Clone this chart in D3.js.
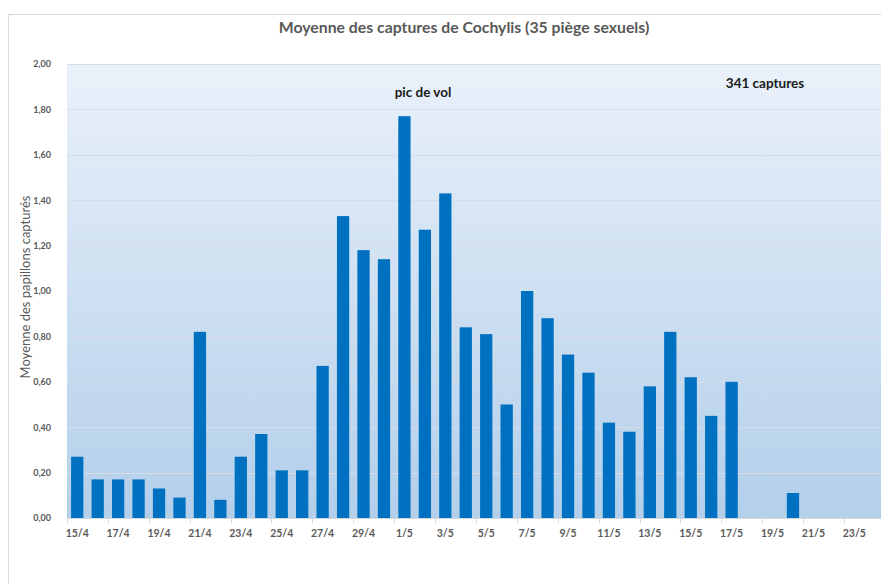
<!DOCTYPE html>
<html>
<head>
<meta charset="utf-8">
<script src="https://cdn.jsdelivr.net/npm/d3@7"></script>
<style>
  html, body { margin: 0; padding: 0; background: #fff; }
  svg { display: block; }
  text { font-family: Lato, "Open Sans", sans-serif; }
</style>
</head>
<body>
<div id="chart"></div>
<script>
// one bar per day, 15/4 -> 24/5
const days = [
  "15/4","16/4","17/4","18/4","19/4","20/4","21/4","22/4","23/4","24/4",
  "25/4","26/4","27/4","28/4","29/4","30/4","1/5","2/5","3/5","4/5",
  "5/5","6/5","7/5","8/5","9/5","10/5","11/5","12/5","13/5","14/5",
  "15/5","16/5","17/5","18/5","19/5","20/5","21/5","22/5","23/5","24/5"
];
const moyennes = [
  0.27, 0.17, 0.17, 0.17, 0.13, 0.09, 0.82, 0.08, 0.27, 0.37,
  0.21, 0.21, 0.67, 1.33, 1.18, 1.14, 1.77, 1.27, 1.43, 0.84,
  0.81, 0.50, 1.00, 0.88, 0.72, 0.64, 0.42, 0.38, 0.58, 0.82,
  0.62, 0.45, 0.60, 0, 0, 0.11, 0, 0, 0, 0
];
const yTicks = [0, 0.2, 0.4, 0.6, 0.8, 1.0, 1.2, 1.4, 1.6, 1.8, 2.0];

const width = 881, height = 584;
const margin = {top: 64, left: 67, right: -4, bottom: 66};
const innerW = width - margin.left - margin.right;
const innerH = height - margin.top - margin.bottom;

const svg = d3.select("#chart").append("svg")
  .attr("width", width)
  .attr("height", height);

// chart frame (cut on the right / bottom like the screenshot)
svg.append("path")
  .attr("d", `M8.5,${height} V14.5 H${width}`)
  .attr("fill", "none")
  .attr("stroke", "#d9d9d9")
  .attr("stroke-width", 1);

const grad = svg.append("defs").append("linearGradient")
  .attr("id", "bg")
  .attr("x1", "0").attr("x2", "0").attr("y1", "0").attr("y2", "1");
grad.append("stop").attr("offset", "0%").attr("stop-color", "#eaf1fa");
grad.append("stop").attr("offset", "100%").attr("stop-color", "#b3cfea");

const g = svg.append("g")
  .attr("transform", `translate(${margin.left},${margin.top})`);

g.append("rect")
  .attr("width", innerW)
  .attr("height", innerH)
  .attr("fill", "url(#bg)");

const x = d3.scaleBand()
  .domain(days)
  .range([0, innerW])
  .paddingInner(0.4)
  .paddingOuter(0.2);

const y = d3.scaleLinear()
  .domain([0, 2])
  .range([innerH, 0]);

// gridlines
g.append("g")
  .selectAll("line")
  .data(yTicks.slice(1))
  .join("line")
  .attr("x1", 0).attr("x2", innerW)
  .attr("y1", d => Math.round(y(d)) + 0.5)
  .attr("y2", d => Math.round(y(d)) + 0.5)
  .attr("stroke", "#d6dde6")
  .attr("stroke-width", 1);

// y axis labels
const yAxis = g.append("g")
  .call(d3.axisLeft(y).tickValues(yTicks).tickSize(0).tickPadding(10)
    .tickFormat(d => d3.format(".2f")(d).replace(".", ",")));
yAxis.select(".domain").remove();
yAxis.selectAll("text")
  .attr("font-size", 9)
  .attr("font-weight", 700)
  .attr("fill", "#595959")
  .attr("dx", -6);

// bars
g.selectAll(".bar")
  .data(days.map((d, i) => ({day: d, v: moyennes[i]})))
  .join("rect")
  .attr("class", "bar")
  .attr("x", d => x(d.day))
  .attr("y", d => y(d.v))
  .attr("width", x.bandwidth())
  .attr("height", d => innerH - y(d.v))
  .attr("fill", "#0070c0");

// x axis: tick every 2 days on category boundaries, label every 2 days
const step = x.step();
const xAxisG = g.append("g")
  .attr("transform", `translate(0,${innerH})`);
xAxisG.append("line")
  .attr("x1", 0).attr("x2", innerW)
  .attr("y1", 0.5).attr("y2", 0.5)
  .attr("stroke", "#d9d9d9");
xAxisG.selectAll(".tk")
  .data(days.filter((d, i) => i % 2 === 0))
  .join("line")
  .attr("class", "tk")
  .attr("x1", d => Math.round(x(d) - step * 0.2) + 0.5)
  .attr("x2", d => Math.round(x(d) - step * 0.2) + 0.5)
  .attr("y1", 0).attr("y2", 5)
  .attr("stroke", "#d9d9d9");
xAxisG.selectAll(".lbl")
  .data(days.filter((d, i) => i % 2 === 0))
  .join("text")
  .attr("class", "lbl")
  .attr("x", d => x(d) + x.bandwidth() / 2)
  .attr("y", 19)
  .attr("text-anchor", "middle")
  .attr("font-size", 10.5)
  .attr("font-weight", 700)
  .attr("fill", "#595959")
  .text(d => d);

// titles
svg.append("text")
  .attr("x", 464)
  .attr("y", 33)
  .attr("text-anchor", "middle")
  .attr("font-size", 15.8)
  .attr("font-weight", 700)
  .attr("fill", "#595959")
  .text("Moyenne des captures de Cochylis (35 piège sexuels)");

svg.append("text")
  .attr("transform", "translate(30,287) rotate(-90)")
  .attr("text-anchor", "middle")
  .attr("font-size", 13)
  .attr("fill", "#595959")
  .text("Moyenne des papillons capturés");

// annotations
svg.append("text")
  .attr("x", 423).attr("y", 97)
  .attr("text-anchor", "middle")
  .attr("font-size", 13.5)
  .attr("font-weight", 700)
  .attr("fill", "#1a1a1a")
  .text("pic de vol");

svg.append("text")
  .attr("x", 765).attr("y", 88)
  .attr("text-anchor", "middle")
  .attr("font-size", 13.5)
  .attr("font-weight", 700)
  .attr("fill", "#1a1a1a")
  .text("341 captures");
</script>
</body>
</html>
